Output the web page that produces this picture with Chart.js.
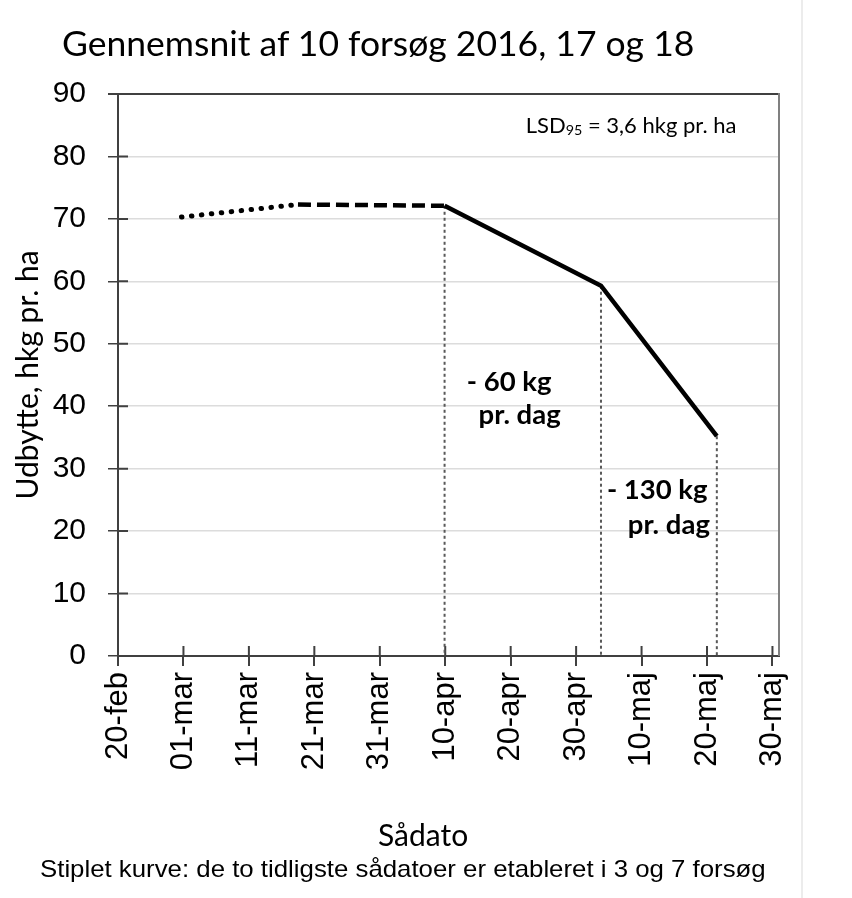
<!DOCTYPE html>
<html>
<head>
<meta charset="utf-8">
<script src="https://cdn.jsdelivr.net/npm/chart.js@4.4.1/dist/chart.umd.min.js"></script>
<style>
  html, body { margin: 0; padding: 0; background: #fff; }
  #wrap { position: relative; width: 852px; height: 898px; overflow: hidden; }
  #chart { position: absolute; left: 0; top: 0; }
  .txt { position: absolute; white-space: nowrap; line-height: 1; color: #000; }
  .title { left: 62px; top: 21px; font: 35.5px Lato, sans-serif; }
  .xtitle { left: 378px; top: 816px; font: 30px Lato, sans-serif; }
  .foot { left: 40px; top: 855px; font: 24px "Liberation Sans", Arial, sans-serif;
          transform: scaleX(1.075); transform-origin: left center; }
  .edge { position: absolute; left: 801px; top: 0; width: 2px; height: 898px; background: #ececec; }
</style>
</head>
<body>
<div id="wrap">
  <canvas id="chart" width="852" height="898"></canvas>
  <div class="edge"></div>
  <div class="txt title">Gennemsnit af 10 forsøg 2016, 17 og 18</div>
  <div class="txt xtitle">Sådato</div>
  <div class="txt foot">Stiplet kurve: de to tidligste sådatoer er etableret i 3 og 7 forsøg</div>
</div>
<script>
"use strict";

// x = dage efter 20-feb
const xTickValues = [0, 10, 20, 30, 40, 50, 60, 70, 80, 90, 100];
const xTickLabels = ["20-feb", "01-mar", "11-mar", "21-mar", "31-mar", "10-apr",
  "20-apr", "30-apr", "10-maj", "20-maj", "30-maj"];
const sowDay = [9.7, 27.5, 49.9, 73.8, 91.5];
const yieldHkg = [70.3, 72.3, 72.1, 59.3, 35.2];
const dropIdx = [2, 3, 4];

// tekster i diagrammet (ankret i dataenheder)
const notes = [
  { parts: [{ t: "- 60 kg" }], x: 53.3, y: 43.9, bold: true },
  { parts: [{ t: "pr. dag" }], x: 55.1, y: 38.6, bold: true },
  { parts: [{ t: "- 130 kg" }], x: 74.7, y: 26.6, bold: true },
  { parts: [{ t: "pr. dag" }], x: 77.9, y: 21.0, bold: true },
  { parts: [{ t: "LSD" }, { t: "95", sub: true }, { t: " = 3,6 hkg pr. ha" }], x: 62.3, y: 84.9, size: 22 },
];

const AXIS = "#404040";
const pts = sowDay.map((d, i) => ({ x: d, y: yieldHkg[i] }));

const innerTicks = {
  id: "innerTicks",
  beforeDatasetsDraw(chart) {
    const { ctx, chartArea: a, scales: { x, y } } = chart;
    ctx.save();
    ctx.strokeStyle = AXIS;
    ctx.lineWidth = 2;
    ctx.beginPath();
    for (const t of y.ticks) {
      const py = y.getPixelForValue(t.value);
      ctx.moveTo(a.left, py);
      ctx.lineTo(a.left + 10, py);
    }
    for (const t of x.ticks) {
      const px = x.getPixelForValue(t.value);
      ctx.moveTo(px, a.bottom);
      ctx.lineTo(px, a.bottom - 10);
    }
    ctx.stroke();
    // højre ramme
    ctx.strokeStyle = "#808080";
    ctx.beginPath();
    ctx.moveTo(a.right, a.top - 1);
    ctx.lineTo(a.right, a.bottom);
    ctx.stroke();
    ctx.restore();
  },
};

const notesPlugin = {
  id: "notes",
  afterDraw(chart) {
    const { ctx, scales: { x, y } } = chart;
    ctx.save();
    ctx.fillStyle = "#000";
    ctx.textBaseline = "middle";
    for (const n of notes) {
      const size = n.size || 27.5;
      let px = x.getPixelForValue(n.x);
      const py = y.getPixelForValue(n.y);
      for (const p of n.parts) {
        const s = p.sub ? size * 0.65 : size;
        ctx.font = `${n.bold ? "bold " : ""}${s}px Lato`;
        ctx.fillText(p.t, px, p.sub ? py + size * 0.22 : py);
        px += ctx.measureText(p.t).width;
      }
    }
    ctx.restore();
  },
};

Chart.defaults.font.family = "'Liberation Sans', Arial, sans-serif";
Chart.defaults.color = "#000";

const lineBase = { borderColor: "#000", borderWidth: 4.5, pointRadius: 0, fill: false, tension: 0 };

new Chart(document.getElementById("chart"), {
  type: "line",
  data: {
    datasets: [
      { ...lineBase, data: pts.slice(0, 2), borderWidth: 5, borderDash: [0.5, 9.5], borderCapStyle: "round" },
      { ...lineBase, data: pts.slice(1, 3), borderDash: [13, 6] },
      { ...lineBase, data: pts.slice(2), borderJoinStyle: "miter" },
      ...dropIdx.map((i) => ({
        data: [{ x: sowDay[i], y: yieldHkg[i] }, { x: sowDay[i], y: 0 }],
        borderColor: "#595959", borderWidth: 2, borderDash: [3, 3], pointRadius: 0,
      })),
    ],
  },
  options: {
    responsive: false,
    animation: false,
    layout: { padding: { left: 0, right: 73, top: 94, bottom: 0 } },
    plugins: { legend: { display: false }, tooltip: { enabled: false } },
    scales: {
      x: {
        type: "linear",
        min: 0,
        max: 101,
        afterBuildTicks: (s) => { s.ticks = xTickValues.map((v) => ({ value: v })); },
        afterFit: (s) => { s.height = 242; },
        ticks: {
          autoSkip: false,
          minRotation: 90,
          maxRotation: 90,
          padding: 6,
          font: { size: 31 },
          callback: (v) => xTickLabels[xTickValues.indexOf(v)],
        },
        grid: { drawOnChartArea: false, tickLength: 10, tickColor: AXIS, lineWidth: 2 },
        border: { color: AXIS, width: 2 },
      },
      y: {
        min: 0,
        max: 90,
        afterFit: (s) => { s.width = 118; },
        ticks: { stepSize: 10, padding: 22, font: { size: 30 } },
        grid: {
          color: (c) => (c.tick.value === 90 ? AXIS : "#dcdcdc"),
          lineWidth: (c) => (c.tick.value === 90 ? 2 : 1.5),
          tickLength: 10,
          tickColor: AXIS,
        },
        border: { color: AXIS, width: 2 },
        title: {
          display: true,
          text: "Udbytte, hkg pr. ha",
          font: { family: "Lato", size: 30 },
          padding: { top: 10, bottom: 0 },
        },
      },
    },
  },
  plugins: [innerTicks, notesPlugin],
});
</script>
</body>
</html>
